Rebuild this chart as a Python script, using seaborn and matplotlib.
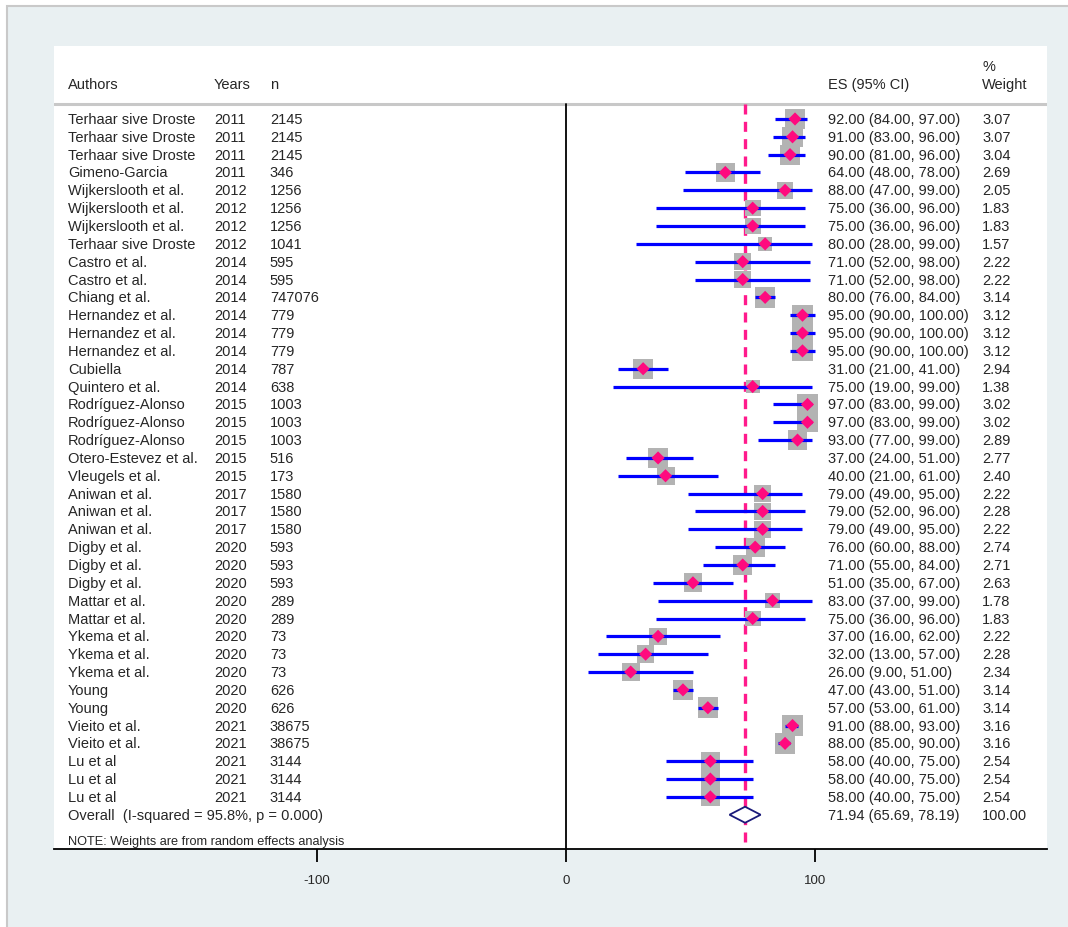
import numpy as np
import pandas as pd
import matplotlib
matplotlib.use("Agg")
import matplotlib.pyplot as plt
from matplotlib.patches import Rectangle, Polygon
import seaborn as sns

# -----------------------------
# Study data
# -----------------------------
authors = [
    "Terhaar sive Droste", "Terhaar sive Droste", "Terhaar sive Droste", "Gimeno-Garcia",
    "Wijkerslooth et al.", "Wijkerslooth et al.", "Wijkerslooth et al.", "Terhaar sive Droste",
    "Castro et al.", "Castro et al.", "Chiang et al.", "Hernandez et al.", "Hernandez et al.",
    "Hernandez et al.", "Cubiella", "Quintero et al.", "Rodríguez-Alonso", "Rodríguez-Alonso",
    "Rodríguez-Alonso", "Otero-Estevez et al.", "Vleugels et al.", "Aniwan et al.", "Aniwan et al.",
    "Aniwan et al.", "Digby et al.", "Digby et al.", "Digby et al.", "Mattar et al.", "Mattar et al.",
    "Ykema et al.", "Ykema et al.", "Ykema et al.", "Young", "Young", "Vieito et al.", "Vieito et al.",
    "Lu et al", "Lu et al", "Lu et al",
]
years = [2011, 2011, 2011, 2011, 2012, 2012, 2012, 2012, 2014, 2014, 2014, 2014, 2014, 2014,
         2014, 2014, 2015, 2015, 2015, 2015, 2015, 2017, 2017, 2017, 2020, 2020, 2020, 2020,
         2020, 2020, 2020, 2020, 2020, 2020, 2021, 2021, 2021, 2021, 2021]
n_size = [2145, 2145, 2145, 346, 1256, 1256, 1256, 1041, 595, 595, 747076, 779, 779, 779,
          787, 638, 1003, 1003, 1003, 516, 173, 1580, 1580, 1580, 593, 593, 593, 289, 289,
          73, 73, 73, 626, 626, 38675, 38675, 3144, 3144, 3144]
es = [92, 91, 90, 64, 88, 75, 75, 80, 71, 71, 80, 95, 95, 95, 31, 75, 97, 97, 93, 37, 40,
      79, 79, 79, 76, 71, 51, 83, 75, 37, 32, 26, 47, 57, 91, 88, 58, 58, 58]
ci_low = [84, 83, 81, 48, 47, 36, 36, 28, 52, 52, 76, 90, 90, 90, 21, 19, 83, 83, 77, 24, 21,
          49, 52, 49, 60, 55, 35, 37, 36, 16, 13, 9, 43, 53, 88, 85, 40, 40, 40]
ci_high = [97, 96, 96, 78, 99, 96, 96, 99, 98, 98, 84, 100, 100, 100, 41, 99, 99, 99, 99, 51,
           61, 95, 96, 95, 88, 84, 67, 99, 96, 62, 57, 51, 51, 61, 93, 90, 75, 75, 75]
weights = [3.07, 3.07, 3.04, 2.69, 2.05, 1.83, 1.83, 1.57, 2.22, 2.22, 3.14, 3.12, 3.12, 3.12,
           2.94, 1.38, 3.02, 3.02, 2.89, 2.77, 2.40, 2.22, 2.28, 2.22, 2.74, 2.71, 2.63, 1.78,
           1.83, 2.22, 2.28, 2.34, 3.14, 3.14, 3.16, 3.16, 2.54, 2.54, 2.54]

overall_es = 71.94
overall_low = 65.69
overall_high = 78.19
overall_label = "Overall  (I-squared = 95.8%, p = 0.000)"
note_label = "NOTE: Weights are from random effects analysis"
x_ticks = [-100, 0, 100]

df = pd.DataFrame({
    "author": authors, "year": years, "n": n_size,
    "es": es, "lo": ci_low, "hi": ci_high, "w": weights,
})
df["row"] = np.arange(len(df))

# -----------------------------
# Style
# -----------------------------
sns.set_theme(style="white")
plt.rcParams["font.family"] = ["Liberation Sans", "DejaVu Sans"]

fig = plt.figure(figsize=(10.68, 9.28), dpi=100, facecolor="white")
# graph region background (border visible only top / left, like the cropped original)
fig.patches.append(Rectangle((7 / 1068, -0.05), 1.1, 1.05 - 7 / 928, transform=fig.transFigure,
                             facecolor="#e9f0f2", edgecolor="#c9c9c9", lw=1.5, zorder=-10))
ax = fig.add_axes([54 / 1068, 1 - 850 / 928, (1047 - 54) / 1068, (850 - 47) / 928])
ax.set_zorder(1)
ax.set_facecolor("white")

n_rows = len(df)
row_overall = n_rows
ax.set_xlim(-205.6, 193.2)
ax.set_ylim(40.92, -4.09)

# header separator
hdr_y = -0.84
ax.axhline(hdr_y, color="#c8c8c8", lw=2.2, zorder=1)

# null line and overall (dashed) line
ax.plot([0, 0], [hdr_y, 40.92], color="black", lw=1.3, zorder=2)
ax.plot([overall_es, overall_es], [hdr_y, 40.92], color="#ff1a8c", lw=2.4,
        ls=(0, (3, 2.2)), zorder=3)

# confidence intervals
ax.hlines(df["row"], df["lo"], df["hi"], color="#0000ff", lw=2.3, zorder=4)

# weight squares
sns.scatterplot(data=df, x="es", y="row", s=df["w"] * 70, marker="s", color="#b3b3b3",
                edgecolor="#b3b3b3", linewidth=0, legend=False, ax=ax, zorder=3)
# point estimates
sns.scatterplot(data=df, x="es", y="row", s=45, marker="D", color="#ff0a7e",
                edgecolor="none", linewidth=0, legend=False, ax=ax, zorder=5)

# overall diamond
dh = 0.45
ax.add_patch(Polygon([[overall_low, row_overall], [overall_es, row_overall - dh],
                      [overall_high, row_overall], [overall_es, row_overall + dh]],
                     closed=True, facecolor="white", edgecolor="#1a1a7a", lw=1.3, zorder=6))

# -----------------------------
# Table text
# -----------------------------
fs = 10.5
x_auth, x_year, x_n, x_es, x_w = -200, -141.4, -118.9, 105.2, 167.1
hy = -1.96
ax.text(x_auth, hy, "Authors", fontsize=fs, va="center", ha="left")
ax.text(x_year, hy, "Years", fontsize=fs, va="center", ha="left")
ax.text(x_n, hy, "n", fontsize=fs, va="center", ha="left")
ax.text(x_es, hy, "ES (95% CI)", fontsize=fs, va="center", ha="left")
ax.text(x_w, -2.97, "%", fontsize=fs, va="center", ha="left")
ax.text(x_w, hy, "Weight", fontsize=fs, va="center", ha="left")

for _, r in df.iterrows():
    y = r["row"]
    ax.text(x_auth, y, r["author"], fontsize=fs, va="center", ha="left")
    ax.text(x_year, y, str(r["year"]), fontsize=fs, va="center", ha="left")
    ax.text(x_n, y, str(r["n"]), fontsize=fs, va="center", ha="left")
    ax.text(x_es, y, f"{r['es']:.2f} ({r['lo']:.2f}, {r['hi']:.2f})",
            fontsize=fs, va="center", ha="left")
    ax.text(x_w, y, f"{r['w']:.2f}", fontsize=fs, va="center", ha="left")

ax.text(x_auth, row_overall, overall_label, fontsize=fs, va="center", ha="left")
ax.text(x_es, row_overall, f"{overall_es:.2f} ({overall_low:.2f}, {overall_high:.2f})",
        fontsize=fs, va="center", ha="left")
ax.text(x_w, row_overall, "100.00", fontsize=fs, va="center", ha="left")
ax.text(x_auth, 40.45, note_label, fontsize=9.2, va="center", ha="left")

# -----------------------------
# Axis
# -----------------------------
ax.set_xticks(x_ticks)
ax.set_xticklabels([str(t) for t in x_ticks], fontsize=9.5)
ax.set_yticks([])
ax.tick_params(axis="x", direction="out", length=9, width=1.3, color="black", pad=9,
               bottom=True)
for side in ["left", "top", "right"]:
    ax.spines[side].set_visible(False)
ax.spines["bottom"].set_color("black")
ax.spines["bottom"].set_linewidth(1.3)
ax.set_xlabel("")
ax.set_ylabel("")

fig.savefig("out.png", dpi=100, facecolor=fig.get_facecolor())
